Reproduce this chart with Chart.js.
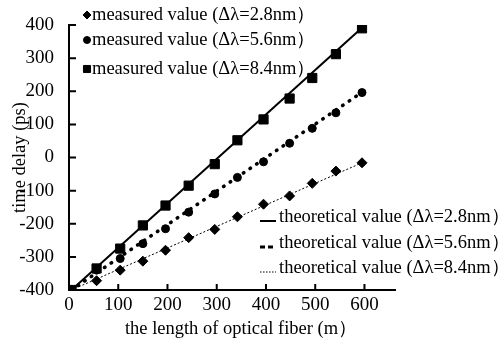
<!DOCTYPE html>
<html>
<head>
<meta charset="utf-8">
<script src="https://cdn.jsdelivr.net/npm/chart.js@4.4.0/dist/chart.umd.min.js"></script>
<style>
  html, body { margin: 0; padding: 0; background: #fff; }
</style>
</head>
<body>
<canvas id="chart" width="501" height="343"></canvas>
<script>
// Dados
const fiberLength = [5, 56, 104, 150, 196, 243, 296, 342, 395, 448, 494, 542, 595];
const measured28 = [-400, -372, -340, -313, -280, -242, -217, -179, -141, -116, -78, -41, -16];
const measured56 = [-400, -340, -305, -260, -215, -165, -110, -60, -13, 43, 88, 135, 196];
const measured84 = [-400, -335, -275, -205, -145, -85, -20, 52, 115, 178, 240, 312, 390];

// retas teóricas (estilo da legenda: contínua, tracejada, pontilhada)
const theoryLength = [5, 595];
const theorySolid = [-400, 392];
const theoryDashed = [-400, 197];
const theoryDotted = [-400, -16];

const xTicks = [0, 100, 200, 300, 400, 500, 600];
const yTicks = [-400, -300, -200, -100, 0, 100, 200, 300, 400];

const measuredLabels = ['measured value (Δλ=2.8nm）', 'measured value (Δλ=5.6nm）', 'measured value (Δλ=8.4nm）'];
const theoryLabels = ['theoretical value (Δλ=2.8nm）', 'theoretical value (Δλ=5.6nm）', 'theoretical value (Δλ=8.4nm）'];
const xTitle = 'the length of optical fiber (m）';
const yTitle = 'time delay (ps)';

const FONT = '"Liberation Serif", "Times New Roman", serif';
const toPoints = (xs, ys) => xs.map((x, i) => ({ x: x, y: ys[i] }));

// Marcas de escala para dentro do gráfico
const innerTicks = {
    id: 'innerTicks',
    afterDraw(chart) {
        const { ctx, scales: { x, y } } = chart;
        ctx.save();
        ctx.strokeStyle = '#000';
        ctx.lineWidth = 2;
        ctx.beginPath();
        xTicks.forEach(v => {
            const px = x.getPixelForValue(v);
            ctx.moveTo(px, y.bottom);
            ctx.lineTo(px, y.bottom - 6);
        });
        yTicks.forEach(v => {
            const py = y.getPixelForValue(v);
            ctx.moveTo(x.left, py);
            ctx.lineTo(x.left + 7, py);
        });
        ctx.stroke();
        ctx.restore();
    }
};

// Legendas desenhadas à mão (duas caixas separadas) + título do eixo x
const customLegend = {
    id: 'customLegend',
    afterDraw(chart) {
        const ctx = chart.ctx;
        const ds = chart.data.datasets;
        ctx.save();
        ctx.fillStyle = '#000';
        ctx.strokeStyle = '#000';
        ctx.font = '18.5px ' + FONT;
        ctx.textBaseline = 'middle';
        ctx.textAlign = 'left';

        const topRows = [15, 40, 69];
        const markerSize = [4, 3.5, 5];
        measuredLabels.forEach((label, i) => {
            Chart.helpers.drawPoint(ctx, { pointStyle: ds[i].pointStyle, radius: markerSize[i], rotation: 0, borderWidth: 1 }, 87, topRows[i]);
            ctx.fillText(label, 92, topRows[i]);
        });

        const bottomRows = [217, 243, 268];
        const legendDash = [[], [5, 3], [1.5, 1.5]];
        const legendWidth = [2, 3, 1];
        theoryLabels.forEach((label, i) => {
            ctx.save();
            ctx.lineWidth = legendWidth[i];
            ctx.setLineDash(legendDash[i]);
            ctx.beginPath();
            ctx.moveTo(260, bottomRows[i] + 4);
            ctx.lineTo(276, bottomRows[i] + 4);
            ctx.stroke();
            ctx.restore();
            ctx.fillText(label, 279, bottomRows[i]);
        });

        ctx.textAlign = 'center';
        ctx.fillText(xTitle, 241, 329);
        ctx.restore();
    }
};

const ctx = document.getElementById('chart').getContext('2d');
new Chart(ctx, {
    type: 'scatter',
    data: {
        datasets: [
            { label: measuredLabels[0], data: toPoints(fiberLength, measured28), pointStyle: 'rectRot', pointRadius: 5, backgroundColor: '#000', borderColor: '#000', showLine: false },
            { label: measuredLabels[1], data: toPoints(fiberLength, measured56), pointStyle: 'circle', pointRadius: 4, backgroundColor: '#000', borderColor: '#000', showLine: false },
            { label: measuredLabels[2], data: toPoints(fiberLength, measured84), pointStyle: 'rect', pointRadius: 6.5, backgroundColor: '#000', borderColor: '#000', showLine: false },
            { label: theoryLabels[0], data: toPoints(theoryLength, theorySolid), showLine: true, pointRadius: 0, borderColor: '#000', borderWidth: 2 },
            { label: theoryLabels[1], data: toPoints(theoryLength, theoryDashed), showLine: true, pointRadius: 0, borderColor: '#000', borderWidth: 3.5, borderDash: [0.5, 7.5], borderCapStyle: 'round' },
            { label: theoryLabels[2], data: toPoints(theoryLength, theoryDotted), showLine: true, pointRadius: 0, borderColor: '#000', borderWidth: 1, borderDash: [2, 2] }
        ]
    },
    options: {
        responsive: false,
        devicePixelRatio: 1,
        animation: false,
        layout: { padding: { top: 25, right: 106, left: 0, bottom: 0 } },
        plugins: { legend: { display: false }, tooltip: { enabled: false } },
        scales: {
            x: {
                type: 'linear', min: 0, max: 662,
                afterBuildTicks: scale => { scale.ticks = xTicks.map(v => ({ value: v })); },
                afterFit: scale => { scale.height = 53; },
                ticks: { color: '#000', font: { family: FONT, size: 19 }, padding: -4, maxRotation: 0, autoSkip: false },
                grid: { display: false },
                border: { display: true, color: '#000', width: 2 }
            },
            y: {
                type: 'linear', min: -400, max: 400,
                afterBuildTicks: scale => { scale.ticks = yTicks.map(v => ({ value: v })); },
                afterFit: scale => { scale.width = 69; },
                ticks: { color: '#000', font: { family: FONT, size: 19 }, padding: 7 },
                grid: { display: false },
                border: { display: true, color: '#000', width: 2 },
                title: { display: true, text: yTitle, color: '#000', font: { family: FONT, size: 18.5 }, padding: { top: 9, bottom: 0 } }
            }
        }
    },
    plugins: [innerTicks, customLegend]
});
</script>
</body>
</html>
